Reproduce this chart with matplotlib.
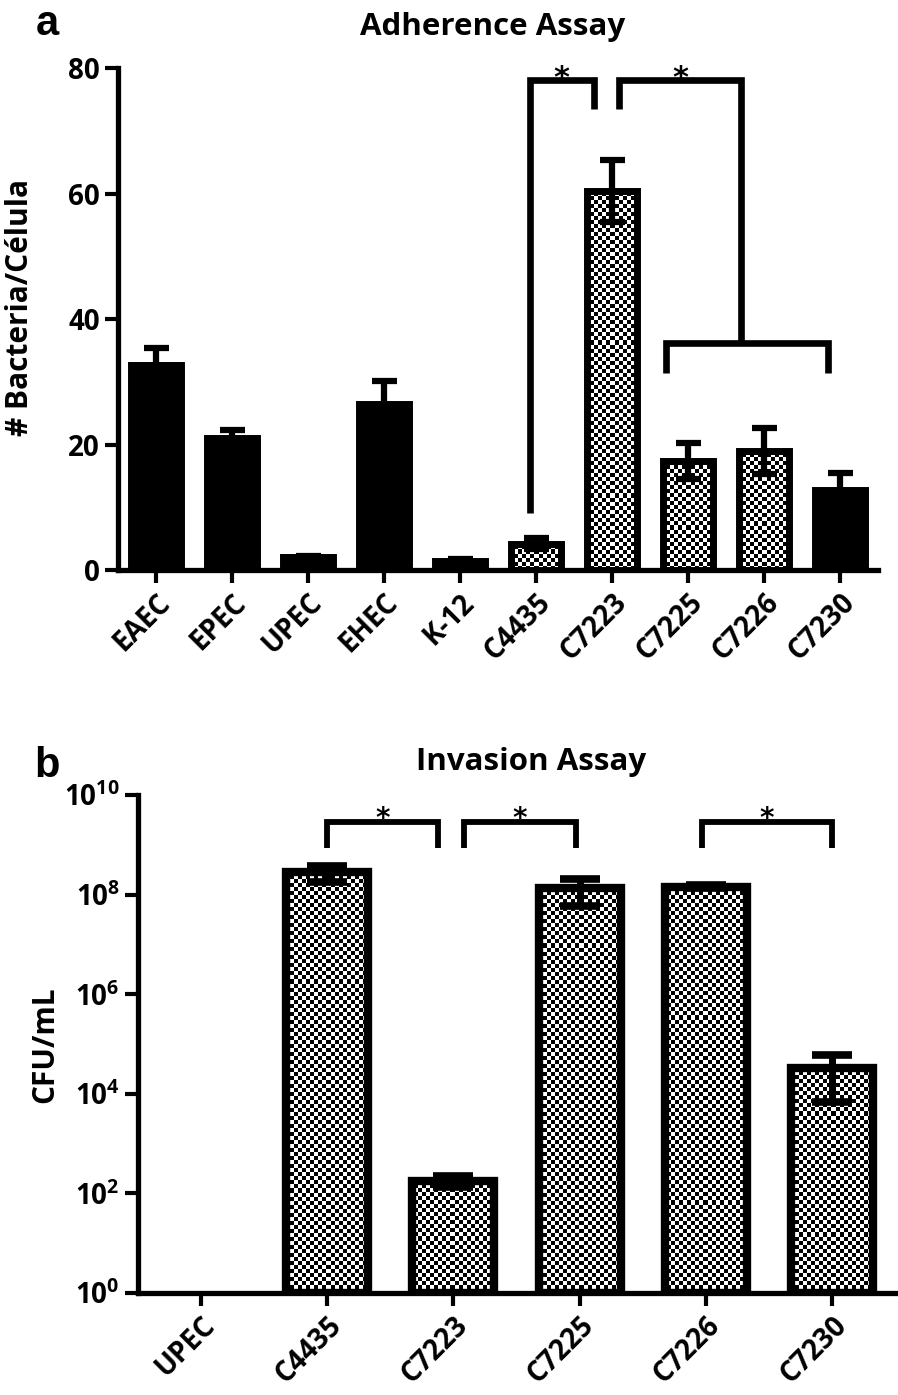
import numpy as np
import matplotlib
matplotlib.use("Agg")
import matplotlib.pyplot as plt
from matplotlib.ticker import FixedLocator, FixedFormatter

plt.rcParams.update({
    "font.family": "Open Sans",
    "font.weight": "bold",
    "mathtext.fontset": "custom",
    "mathtext.rm": "Open Sans:bold",
    "mathtext.bf": "Open Sans:bold",
    "mathtext.it": "Open Sans:bold",
})

# ---- panel a: adherence ----
strains_a = ["EAEC", "EPEC", "UPEC", "EHEC", "K-12",
             "C4435", "C7223", "C7225", "C7226", "C7230"]
adh_mean = [32.6, 21.0, 2.0, 26.5, 1.5, 4.2, 60.4, 17.4, 19.0, 12.7]
adh_err = [2.8, 1.3, 0.3, 3.6, 0.3, 0.9, 5.0, 2.9, 3.7, 2.8]
adh_checker = [False, False, False, False, False, True, True, True, True, False]
# comparisons: (x_left, x_right, y_top, y_left_end, y_right_end)
adh_brackets = [(4.92, 5.76, 78.1, 9.1, 73.5),
                (6.09, 7.70, 78.1, 73.5, 36.2)]
adh_group = (6.71, 8.84, 36.2, 31.4)

# ---- panel b: invasion ----
strains_b = ["UPEC", "C4435", "C7223", "C7225", "C7226", "C7230"]
inv_mean = [np.nan, 2.8e8, 180, 1.35e8, 1.45e8, 3.3e4]
inv_err = [np.nan, 1.0e8, 45, 0.75e8, 0.1e8, 2.6e4]
inv_brackets = [(1.0, 1.88), (2.08, 2.97), (3.97, 5.0)]
inv_br_top, inv_br_leg = 10**9.46, 10**8.94

W, H = 898, 1395
fig = plt.figure(figsize=(W / 100, H / 100), dpi=100)

def px_axes(x0, y0, x1, y1):
    return fig.add_axes([x0 / W, 1 - y1 / H, (x1 - x0) / W, (y1 - y0) / H])

def style(ax):
    for s in ("top", "right"):
        ax.spines[s].set_visible(False)
    for s in ("left", "bottom"):
        ax.spines[s].set_linewidth(3.8)
    ax.tick_params(axis="both", direction="out", length=9.5, width=3.0,
                   labelsize=20)
    ax.tick_params(axis="y", which="minor", length=0)

def checker_fill(ax, patch, cell=4):
    bb = ax.get_window_extent()
    rows, cols = int(bb.height / cell), int(bb.width / cell)
    board = np.indices((rows, cols)).sum(axis=0) % 2
    im = ax.imshow(board, cmap="gray", vmin=0, vmax=1, interpolation="nearest",
                   extent=(0, 1, 0, 1), transform=ax.transAxes, aspect="auto",
                   zorder=1)
    im.set_clip_path(patch)

def bracket(ax, x0, x1, ytop, yl, yr, lw):
    ax.plot([x0, x0, x1, x1], [yl, ytop, ytop, yr], color="black", lw=lw,
            solid_capstyle="butt", solid_joinstyle="miter", zorder=4,
            clip_on=False)

# ===== panel a =====
ax1 = px_axes(118, 68, 878, 570)
ax1.set_xlim(-0.5, 9.5)
ax1.set_ylim(0, 80)
xa = np.arange(len(strains_a))
faces = ["none" if c else "black" for c in adh_checker]
bars = ax1.bar(xa, adh_mean, width=0.66, color=faces, edgecolor="black",
               linewidth=5, zorder=2)
ax1.errorbar(xa, adh_mean, yerr=adh_err, fmt="none", ecolor="black",
             elinewidth=4.5, capsize=9, capthick=4.5, zorder=3)
for b, c in zip(bars, adh_checker):
    if c:
        checker_fill(ax1, b)
ax1.set_yticks([0, 20, 40, 60, 80])
ax1.set_xticks(xa)
ax1.set_xticklabels(strains_a, rotation=45, ha="right", va="top",
                    rotation_mode="anchor")
style(ax1)
for x0, x1, yt, yl, yr in adh_brackets:
    bracket(ax1, x0, x1, yt, yl, yr, 4.8)
    ax1.text((x0 + x1) / 2, yt + 0.3, "*", ha="center", va="center",
             fontsize=22, family="DejaVu Sans", fontweight="bold")
gx0, gx1, gy, gleg = adh_group
bracket(ax1, gx0, gx1, gy, gleg, gleg, 4.8)

fig.text(493 / W, 1 - 27 / H, "Adherence Assay", ha="center", va="center",
         fontsize=22.5)
fig.text(20 / W, 1 - 307 / H, "# Bacteria/Célula", ha="center", va="center",
         rotation=90, fontsize=21.5)
fig.text(47 / W, 1 - 24 / H, "a", ha="center", va="center", fontsize=30,
         family="Liberation Sans", fontweight="bold")

# ===== panel b =====
ax2 = px_axes(138, 795, 895, 1293)
ax2.set_yscale("log")
ax2.set_xlim(-0.5, 5.5)
ax2.set_ylim(1, 1e10)
xb = np.arange(len(strains_b))
bars_b = ax2.bar(xb, inv_mean, width=0.65, bottom=1, color="none",
                 edgecolor="black", linewidth=6, zorder=2)
ax2.errorbar(xb, inv_mean, yerr=inv_err, fmt="none", ecolor="black",
             elinewidth=5, capsize=14.5, capthick=5.5, zorder=3)
for b, m in zip(bars_b, inv_mean):
    if not np.isnan(m):
        checker_fill(ax2, b)
exps = [0, 2, 4, 6, 8, 10]
ax2.yaxis.set_major_locator(FixedLocator([10.0 ** e for e in exps]))
ax2.yaxis.set_major_formatter(FixedFormatter([r"$10^{%d}$" % e for e in exps]))
ax2.yaxis.set_minor_locator(FixedLocator([]))
ax2.set_xticks(xb)
ax2.set_xticklabels(strains_b, rotation=45, ha="right", va="top",
                    rotation_mode="anchor")
style(ax2)
for x0, x1 in inv_brackets:
    bracket(ax2, x0, x1, inv_br_top, inv_br_leg, inv_br_leg, 4.2)
    ax2.text((x0 + x1) / 2, inv_br_top * 1.12, "*", ha="center", va="center",
             fontsize=20, family="DejaVu Sans", fontweight="bold")

fig.text(531 / W, 1 - 762 / H, "Invasion Assay", ha="center", va="center",
         fontsize=22.5)
fig.text(45 / W, 1 - 1045 / H, "CFU/mL", ha="center", va="center",
         rotation=90, fontsize=21.5)
fig.text(47 / W, 1 - 766 / H, "b", ha="center", va="center", fontsize=30,
         family="Liberation Sans", fontweight="bold")

fig.savefig("out.png", dpi=100, facecolor="white")
